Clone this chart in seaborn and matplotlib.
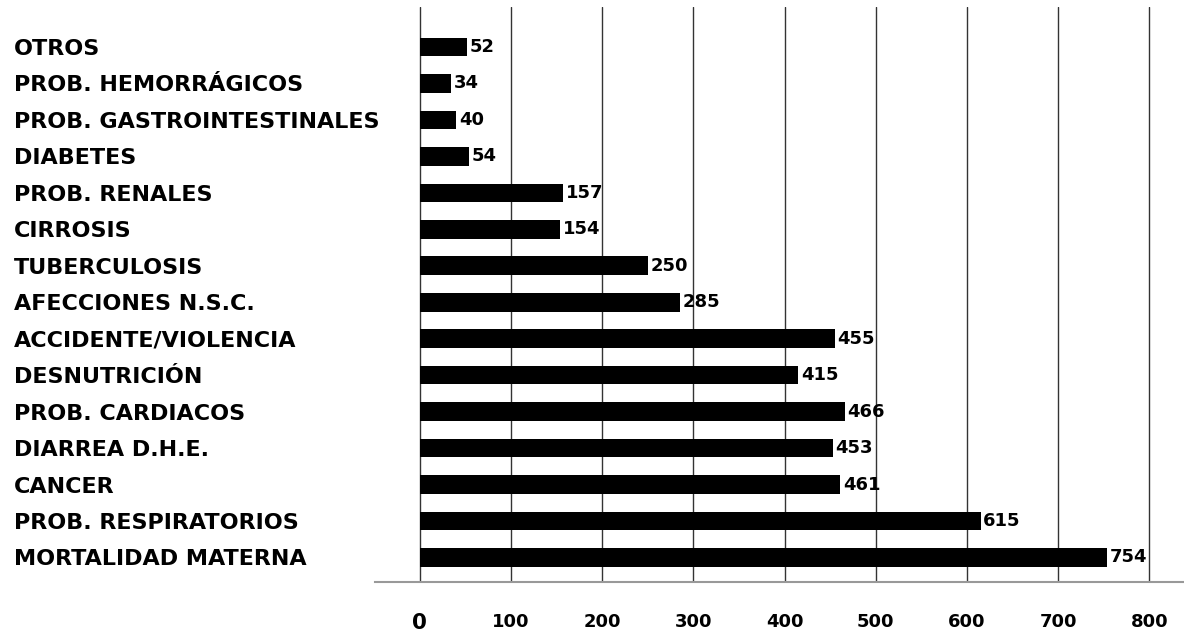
import matplotlib
matplotlib.use("Agg")
import matplotlib.pyplot as plt
import seaborn as sns
import pandas as pd

categories = [
    "OTROS", "PROB. HEMORRÁGICOS", "PROB. GASTROINTESTINALES", "DIABETES",
    "PROB. RENALES", "CIRROSIS", "TUBERCULOSIS", "AFECCIONES N.S.C.",
    "ACCIDENTE/VIOLENCIA", "DESNUTRICIÓN", "PROB. CARDIACOS", "DIARREA D.H.E.",
    "CANCER", "PROB. RESPIRATORIOS", "MORTALIDAD MATERNA",
]
values = [52, 34, 40, 54, 157, 154, 250, 285, 455, 415, 466, 453, 461, 615, 754]
x_ticks = [0, 100, 200, 300, 400, 500, 600, 700, 800]

df = pd.DataFrame({"cat": categories, "val": values})

sns.set_theme(style="white")
plt.rcParams["font.family"] = ["DejaVu Sans"]

W, H = 1184, 631
fig = plt.figure(figsize=(W / 100, H / 100), dpi=100)
ax = fig.add_axes([375 / W, (H - 582) / H, (W - 375) / W, (582 - 7) / H])

sns.barplot(data=df, y="cat", x="val", orient="h", color="black",
            width=0.51, saturation=1, ax=ax, zorder=3,
            edgecolor="black", linewidth=0)

ax.set_xlim(-49, 838)
ax.set_ylim(len(categories) - 1 + 0.672, -1.097)

for xv in x_ticks:
    ax.axvline(xv, color="#333333", lw=1.0, zorder=1)

for i, v in enumerate(values):
    ax.text(v + 3, i, str(v), va="center", ha="left", fontsize=13,
            fontweight="bold", color="black", zorder=4)

ax.set_xticks(x_ticks)
ax.set_xticklabels([str(t) for t in x_ticks], fontsize=13, fontweight="bold",
                   color="black")
for lab in ax.get_xticklabels():
    if lab.get_text() == "0":
        lab.set_fontsize(15.5)
ax.tick_params(axis="x", length=0, pad=22)
ax.tick_params(axis="y", length=0, pad=260)
for lab in ax.get_yticklabels():
    lab.set_ha("left")
    lab.set_fontsize(16)
    lab.set_fontweight("bold")
    lab.set_color("black")

ax.set_xlabel("")
ax.set_ylabel("")
for s in ["top", "right", "left"]:
    ax.spines[s].set_visible(False)
ax.spines["bottom"].set_color("#999999")
ax.spines["bottom"].set_linewidth(1.5)
ax.grid(False)

fig.savefig("out.png", dpi=100, facecolor="white")
